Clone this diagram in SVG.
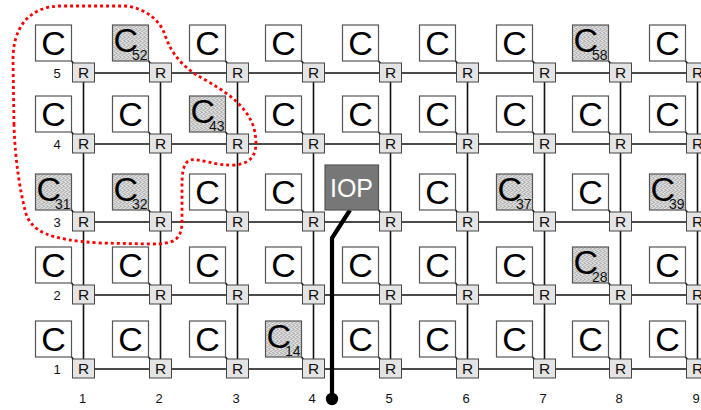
<svg xmlns="http://www.w3.org/2000/svg" width="701" height="410" viewBox="0 0 701 410">
  <defs>
    <!-- stippled fill for occupied cores -->
    <pattern id="stip" width="4" height="4" patternUnits="userSpaceOnUse">
      <rect width="4" height="4" fill="#dedede"/>
      <rect x="0" y="0" width="1" height="1" fill="#8c8c8c"/>
      <rect x="2" y="1" width="1" height="1" fill="#a4a4a4"/>
      <rect x="1" y="2" width="1" height="1" fill="#9a9a9a"/>
      <rect x="3" y="3" width="1" height="1" fill="#909090"/>
      <rect x="3" y="1" width="1" height="1" fill="#c0c0c0"/>
    </pattern>
    <style>
      .grid { stroke: #111; stroke-width: 1.6; fill: none; }
      .link { stroke: #111; stroke-width: 1.6; fill: none; }
      .cb { fill: #fff; stroke: #555; stroke-width: 1.2; }
      .cs { fill: url(#stip); stroke: #555; stroke-width: 1.2; }
      .ct { font-family: "Liberation Sans", Arial, sans-serif; font-size: 34px; fill: #000; text-anchor: middle; }
      .cst { font-family: "Liberation Sans", Arial, sans-serif; font-size: 34px; fill: #000; }
      .sub { font-family: "Liberation Sans", Arial, sans-serif; font-size: 14px; fill: #111; text-anchor: end; }
      .router rect { fill: #e4e4e4; stroke: #444; stroke-width: 1; }
      .router text { font-family: "Liberation Sans", Arial, sans-serif; font-size: 15.5px; fill: #111; text-anchor: middle; }
      .lbl { font-family: "Liberation Sans", Arial, sans-serif; font-size: 13px; fill: #111; text-anchor: middle; }
    </style>
  </defs>

  <rect width="701" height="410" fill="#fff"/>

  <!-- mesh links, core-to-router links and the IO path -->
  <g id="connectors">
    <path class="grid" d="M83.5,73H701 M83.5,144H701 M83.5,222H701 M83.5,295H701 M83.5,369H701"/>
    <path class="grid" d="M83.5,73V369 M160.5,73V369 M237.5,73V369 M313.5,73V369 M390.5,73V369 M467.5,73V369 M544.5,73V369 M620.5,73V369 M697.5,73V369"/>
    <path class="link" d="M71.5,61l2,2.5 M148.5,61l2,2.5 M225.5,61l2,2.5 M301.5,61l2,2.5 M378.5,61l2,2.5 M455.5,61l2,2.5 M532.5,61l2,2.5 M608.5,61l2,2.5 M685.5,61l2,2.5"/>
    <path class="link" d="M71.5,132l2,2.5 M148.5,132l2,2.5 M225.5,132l2,2.5 M301.5,132l2,2.5 M378.5,132l2,2.5 M455.5,132l2,2.5 M532.5,132l2,2.5 M608.5,132l2,2.5 M685.5,132l2,2.5"/>
    <path class="link" d="M71.5,210l2,2.5 M148.5,210l2,2.5 M225.5,210l2,2.5 M301.5,210l2,2.5 M378.5,210l2,2.5 M455.5,210l2,2.5 M532.5,210l2,2.5 M608.5,210l2,2.5 M685.5,210l2,2.5"/>
    <path class="link" d="M71.5,283l2,2.5 M148.5,283l2,2.5 M225.5,283l2,2.5 M301.5,283l2,2.5 M378.5,283l2,2.5 M455.5,283l2,2.5 M532.5,283l2,2.5 M608.5,283l2,2.5 M685.5,283l2,2.5"/>
    <path class="link" d="M71.5,357l2,2.5 M148.5,357l2,2.5 M225.5,357l2,2.5 M301.5,357l2,2.5 M378.5,357l2,2.5 M455.5,357l2,2.5 M532.5,357l2,2.5 M608.5,357l2,2.5 M685.5,357l2,2.5"/>
    <path d="M350,210 L332,238 V399" fill="none" stroke="#000" stroke-width="4.2"/>
    <circle cx="332" cy="399" r="6.2" fill="#000"/>
  </g>

  <!-- cores: row 5 -->
  <g id="core-1-5" transform="translate(83.5,73)"><rect class="cb" x="-48" y="-48" width="36" height="36"/><text class="ct" x="-30" y="-18">C</text></g>
  <g id="core-2-5" transform="translate(160.5,73)"><rect class="cs" x="-48" y="-48" width="36" height="36"/><text class="cst" x="-47" y="-21">C</text><text class="sub" x="-13" y="-13.5">52</text></g>
  <g id="core-3-5" transform="translate(237.5,73)"><rect class="cb" x="-48" y="-48" width="36" height="36"/><text class="ct" x="-30" y="-18">C</text></g>
  <g id="core-4-5" transform="translate(313.5,73)"><rect class="cb" x="-48" y="-48" width="36" height="36"/><text class="ct" x="-30" y="-18">C</text></g>
  <g id="core-5-5" transform="translate(390.5,73)"><rect class="cb" x="-48" y="-48" width="36" height="36"/><text class="ct" x="-30" y="-18">C</text></g>
  <g id="core-6-5" transform="translate(467.5,73)"><rect class="cb" x="-48" y="-48" width="36" height="36"/><text class="ct" x="-30" y="-18">C</text></g>
  <g id="core-7-5" transform="translate(544.5,73)"><rect class="cb" x="-48" y="-48" width="36" height="36"/><text class="ct" x="-30" y="-18">C</text></g>
  <g id="core-8-5" transform="translate(620.5,73)"><rect class="cs" x="-48" y="-48" width="36" height="36"/><text class="cst" x="-47" y="-21">C</text><text class="sub" x="-13" y="-13.5">58</text></g>
  <g id="core-9-5" transform="translate(697.5,73)"><rect class="cb" x="-48" y="-48" width="36" height="36"/><text class="ct" x="-30" y="-18">C</text></g>

  <!-- cores: row 4 -->
  <g id="core-1-4" transform="translate(83.5,144)"><rect class="cb" x="-48" y="-48" width="36" height="36"/><text class="ct" x="-30" y="-18">C</text></g>
  <g id="core-2-4" transform="translate(160.5,144)"><rect class="cb" x="-48" y="-48" width="36" height="36"/><text class="ct" x="-30" y="-18">C</text></g>
  <g id="core-3-4" transform="translate(237.5,144)"><rect class="cs" x="-48" y="-48" width="36" height="36"/><text class="cst" x="-47" y="-21">C</text><text class="sub" x="-13" y="-13.5">43</text></g>
  <g id="core-4-4" transform="translate(313.5,144)"><rect class="cb" x="-48" y="-48" width="36" height="36"/><text class="ct" x="-30" y="-18">C</text></g>
  <g id="core-5-4" transform="translate(390.5,144)"><rect class="cb" x="-48" y="-48" width="36" height="36"/><text class="ct" x="-30" y="-18">C</text></g>
  <g id="core-6-4" transform="translate(467.5,144)"><rect class="cb" x="-48" y="-48" width="36" height="36"/><text class="ct" x="-30" y="-18">C</text></g>
  <g id="core-7-4" transform="translate(544.5,144)"><rect class="cb" x="-48" y="-48" width="36" height="36"/><text class="ct" x="-30" y="-18">C</text></g>
  <g id="core-8-4" transform="translate(620.5,144)"><rect class="cb" x="-48" y="-48" width="36" height="36"/><text class="ct" x="-30" y="-18">C</text></g>
  <g id="core-9-4" transform="translate(697.5,144)"><rect class="cb" x="-48" y="-48" width="36" height="36"/><text class="ct" x="-30" y="-18">C</text></g>

  <!-- cores: row 3 (IO processor in column 5) -->
  <g id="core-1-3" transform="translate(83.5,222)"><rect class="cs" x="-48" y="-48" width="36" height="36"/><text class="cst" x="-47" y="-21">C</text><text class="sub" x="-13" y="-13.5">31</text></g>
  <g id="core-2-3" transform="translate(160.5,222)"><rect class="cs" x="-48" y="-48" width="36" height="36"/><text class="cst" x="-47" y="-21">C</text><text class="sub" x="-13" y="-13.5">32</text></g>
  <g id="core-3-3" transform="translate(237.5,222)"><rect class="cb" x="-48" y="-48" width="36" height="36"/><text class="ct" x="-30" y="-18">C</text></g>
  <g id="core-4-3" transform="translate(313.5,222)"><rect class="cb" x="-48" y="-48" width="36" height="36"/><text class="ct" x="-30" y="-18">C</text></g>
  <g id="iop">
    <rect x="325" y="165" width="53.5" height="45" fill="#777" stroke="#555" stroke-width="1.2"/>
    <text x="351.5" y="197" font-family="'Liberation Sans', Arial, sans-serif" font-size="25" fill="#fff" text-anchor="middle">IOP</text>
  </g>
  <g id="core-6-3" transform="translate(467.5,222)"><rect class="cb" x="-48" y="-48" width="36" height="36"/><text class="ct" x="-30" y="-18">C</text></g>
  <g id="core-7-3" transform="translate(544.5,222)"><rect class="cs" x="-48" y="-48" width="36" height="36"/><text class="cst" x="-47" y="-21">C</text><text class="sub" x="-13" y="-13.5">37</text></g>
  <g id="core-8-3" transform="translate(620.5,222)"><rect class="cb" x="-48" y="-48" width="36" height="36"/><text class="ct" x="-30" y="-18">C</text></g>
  <g id="core-9-3" transform="translate(697.5,222)"><rect class="cs" x="-48" y="-48" width="36" height="36"/><text class="cst" x="-47" y="-21">C</text><text class="sub" x="-13" y="-13.5">39</text></g>

  <!-- cores: row 2 -->
  <g id="core-1-2" transform="translate(83.5,295)"><rect class="cb" x="-48" y="-48" width="36" height="36"/><text class="ct" x="-30" y="-18">C</text></g>
  <g id="core-2-2" transform="translate(160.5,295)"><rect class="cb" x="-48" y="-48" width="36" height="36"/><text class="ct" x="-30" y="-18">C</text></g>
  <g id="core-3-2" transform="translate(237.5,295)"><rect class="cb" x="-48" y="-48" width="36" height="36"/><text class="ct" x="-30" y="-18">C</text></g>
  <g id="core-4-2" transform="translate(313.5,295)"><rect class="cb" x="-48" y="-48" width="36" height="36"/><text class="ct" x="-30" y="-18">C</text></g>
  <g id="core-5-2" transform="translate(390.5,295)"><rect class="cb" x="-48" y="-48" width="36" height="36"/><text class="ct" x="-30" y="-18">C</text></g>
  <g id="core-6-2" transform="translate(467.5,295)"><rect class="cb" x="-48" y="-48" width="36" height="36"/><text class="ct" x="-30" y="-18">C</text></g>
  <g id="core-7-2" transform="translate(544.5,295)"><rect class="cb" x="-48" y="-48" width="36" height="36"/><text class="ct" x="-30" y="-18">C</text></g>
  <g id="core-8-2" transform="translate(620.5,295)"><rect class="cs" x="-48" y="-48" width="36" height="36"/><text class="cst" x="-47" y="-21">C</text><text class="sub" x="-13" y="-13.5">28</text></g>
  <g id="core-9-2" transform="translate(697.5,295)"><rect class="cb" x="-48" y="-48" width="36" height="36"/><text class="ct" x="-30" y="-18">C</text></g>

  <!-- cores: row 1 -->
  <g id="core-1-1" transform="translate(83.5,369)"><rect class="cb" x="-48" y="-48" width="36" height="36"/><text class="ct" x="-30" y="-18">C</text></g>
  <g id="core-2-1" transform="translate(160.5,369)"><rect class="cb" x="-48" y="-48" width="36" height="36"/><text class="ct" x="-30" y="-18">C</text></g>
  <g id="core-3-1" transform="translate(237.5,369)"><rect class="cb" x="-48" y="-48" width="36" height="36"/><text class="ct" x="-30" y="-18">C</text></g>
  <g id="core-4-1" transform="translate(313.5,369)"><rect class="cs" x="-48" y="-48" width="36" height="36"/><text class="cst" x="-47" y="-21">C</text><text class="sub" x="-13" y="-13.5">14</text></g>
  <g id="core-5-1" transform="translate(390.5,369)"><rect class="cb" x="-48" y="-48" width="36" height="36"/><text class="ct" x="-30" y="-18">C</text></g>
  <g id="core-6-1" transform="translate(467.5,369)"><rect class="cb" x="-48" y="-48" width="36" height="36"/><text class="ct" x="-30" y="-18">C</text></g>
  <g id="core-7-1" transform="translate(544.5,369)"><rect class="cb" x="-48" y="-48" width="36" height="36"/><text class="ct" x="-30" y="-18">C</text></g>
  <g id="core-8-1" transform="translate(620.5,369)"><rect class="cb" x="-48" y="-48" width="36" height="36"/><text class="ct" x="-30" y="-18">C</text></g>
  <g id="core-9-1" transform="translate(697.5,369)"><rect class="cb" x="-48" y="-48" width="36" height="36"/><text class="ct" x="-30" y="-18">C</text></g>

  <!-- routers -->
  <g id="r-1-5" class="router" transform="translate(83.5,73)"><rect x="-11" y="-10" width="22" height="19"/><text y="5">R</text></g>
  <g id="r-2-5" class="router" transform="translate(160.5,73)"><rect x="-11" y="-10" width="22" height="19"/><text y="5">R</text></g>
  <g id="r-3-5" class="router" transform="translate(237.5,73)"><rect x="-11" y="-10" width="22" height="19"/><text y="5">R</text></g>
  <g id="r-4-5" class="router" transform="translate(313.5,73)"><rect x="-11" y="-10" width="22" height="19"/><text y="5">R</text></g>
  <g id="r-5-5" class="router" transform="translate(390.5,73)"><rect x="-11" y="-10" width="22" height="19"/><text y="5">R</text></g>
  <g id="r-6-5" class="router" transform="translate(467.5,73)"><rect x="-11" y="-10" width="22" height="19"/><text y="5">R</text></g>
  <g id="r-7-5" class="router" transform="translate(544.5,73)"><rect x="-11" y="-10" width="22" height="19"/><text y="5">R</text></g>
  <g id="r-8-5" class="router" transform="translate(620.5,73)"><rect x="-11" y="-10" width="22" height="19"/><text y="5">R</text></g>
  <g id="r-9-5" class="router" transform="translate(697.5,73)"><rect x="-11" y="-10" width="22" height="19"/><text y="5">R</text></g>

  <g id="r-1-4" class="router" transform="translate(83.5,144)"><rect x="-11" y="-10" width="22" height="19"/><text y="5">R</text></g>
  <g id="r-2-4" class="router" transform="translate(160.5,144)"><rect x="-11" y="-10" width="22" height="19"/><text y="5">R</text></g>
  <g id="r-3-4" class="router" transform="translate(237.5,144)"><rect x="-11" y="-10" width="22" height="19"/><text y="5">R</text></g>
  <g id="r-4-4" class="router" transform="translate(313.5,144)"><rect x="-11" y="-10" width="22" height="19"/><text y="5">R</text></g>
  <g id="r-5-4" class="router" transform="translate(390.5,144)"><rect x="-11" y="-10" width="22" height="19"/><text y="5">R</text></g>
  <g id="r-6-4" class="router" transform="translate(467.5,144)"><rect x="-11" y="-10" width="22" height="19"/><text y="5">R</text></g>
  <g id="r-7-4" class="router" transform="translate(544.5,144)"><rect x="-11" y="-10" width="22" height="19"/><text y="5">R</text></g>
  <g id="r-8-4" class="router" transform="translate(620.5,144)"><rect x="-11" y="-10" width="22" height="19"/><text y="5">R</text></g>
  <g id="r-9-4" class="router" transform="translate(697.5,144)"><rect x="-11" y="-10" width="22" height="19"/><text y="5">R</text></g>

  <g id="r-1-3" class="router" transform="translate(83.5,222)"><rect x="-11" y="-10" width="22" height="19"/><text y="5">R</text></g>
  <g id="r-2-3" class="router" transform="translate(160.5,222)"><rect x="-11" y="-10" width="22" height="19"/><text y="5">R</text></g>
  <g id="r-3-3" class="router" transform="translate(237.5,222)"><rect x="-11" y="-10" width="22" height="19"/><text y="5">R</text></g>
  <g id="r-4-3" class="router" transform="translate(313.5,222)"><rect x="-11" y="-10" width="22" height="19"/><text y="5">R</text></g>
  <g id="r-5-3" class="router" transform="translate(390.5,222)"><rect x="-11" y="-10" width="22" height="19"/><text y="5">R</text></g>
  <g id="r-6-3" class="router" transform="translate(467.5,222)"><rect x="-11" y="-10" width="22" height="19"/><text y="5">R</text></g>
  <g id="r-7-3" class="router" transform="translate(544.5,222)"><rect x="-11" y="-10" width="22" height="19"/><text y="5">R</text></g>
  <g id="r-8-3" class="router" transform="translate(620.5,222)"><rect x="-11" y="-10" width="22" height="19"/><text y="5">R</text></g>
  <g id="r-9-3" class="router" transform="translate(697.5,222)"><rect x="-11" y="-10" width="22" height="19"/><text y="5">R</text></g>

  <g id="r-1-2" class="router" transform="translate(83.5,295)"><rect x="-11" y="-10" width="22" height="19"/><text y="5">R</text></g>
  <g id="r-2-2" class="router" transform="translate(160.5,295)"><rect x="-11" y="-10" width="22" height="19"/><text y="5">R</text></g>
  <g id="r-3-2" class="router" transform="translate(237.5,295)"><rect x="-11" y="-10" width="22" height="19"/><text y="5">R</text></g>
  <g id="r-4-2" class="router" transform="translate(313.5,295)"><rect x="-11" y="-10" width="22" height="19"/><text y="5">R</text></g>
  <g id="r-5-2" class="router" transform="translate(390.5,295)"><rect x="-11" y="-10" width="22" height="19"/><text y="5">R</text></g>
  <g id="r-6-2" class="router" transform="translate(467.5,295)"><rect x="-11" y="-10" width="22" height="19"/><text y="5">R</text></g>
  <g id="r-7-2" class="router" transform="translate(544.5,295)"><rect x="-11" y="-10" width="22" height="19"/><text y="5">R</text></g>
  <g id="r-8-2" class="router" transform="translate(620.5,295)"><rect x="-11" y="-10" width="22" height="19"/><text y="5">R</text></g>
  <g id="r-9-2" class="router" transform="translate(697.5,295)"><rect x="-11" y="-10" width="22" height="19"/><text y="5">R</text></g>

  <g id="r-1-1" class="router" transform="translate(83.5,369)"><rect x="-11" y="-10" width="22" height="19"/><text y="5">R</text></g>
  <g id="r-2-1" class="router" transform="translate(160.5,369)"><rect x="-11" y="-10" width="22" height="19"/><text y="5">R</text></g>
  <g id="r-3-1" class="router" transform="translate(237.5,369)"><rect x="-11" y="-10" width="22" height="19"/><text y="5">R</text></g>
  <g id="r-4-1" class="router" transform="translate(313.5,369)"><rect x="-11" y="-10" width="22" height="19"/><text y="5">R</text></g>
  <g id="r-5-1" class="router" transform="translate(390.5,369)"><rect x="-11" y="-10" width="22" height="19"/><text y="5">R</text></g>
  <g id="r-6-1" class="router" transform="translate(467.5,369)"><rect x="-11" y="-10" width="22" height="19"/><text y="5">R</text></g>
  <g id="r-7-1" class="router" transform="translate(544.5,369)"><rect x="-11" y="-10" width="22" height="19"/><text y="5">R</text></g>
  <g id="r-8-1" class="router" transform="translate(620.5,369)"><rect x="-11" y="-10" width="22" height="19"/><text y="5">R</text></g>
  <g id="r-9-1" class="router" transform="translate(697.5,369)"><rect x="-11" y="-10" width="22" height="19"/><text y="5">R</text></g>

  <!-- row and column indices -->
  <g id="axis-labels">
    <text class="lbl" x="57" y="78">5</text>
    <text class="lbl" x="57" y="149">4</text>
    <text class="lbl" x="57" y="227">3</text>
    <text class="lbl" x="57" y="300">2</text>
    <text class="lbl" x="57" y="374">1</text>
    <text class="lbl" x="82.5" y="403">1</text>
    <text class="lbl" x="159" y="403">2</text>
    <text class="lbl" x="236" y="403">3</text>
    <text class="lbl" x="312" y="403">4</text>
    <text class="lbl" x="389" y="403">5</text>
    <text class="lbl" x="466" y="403">6</text>
    <text class="lbl" x="543" y="403">7</text>
    <text class="lbl" x="619" y="403">8</text>
    <text class="lbl" x="696" y="403">9</text>
  </g>

  <!-- application region outline -->
  <path id="region" d="M14,125 L13,60 C13,28 28,7 60,6 L125,6 C145,8 160,20 165,35 C170,50 178,62 195,74 C215,86 245,100 254,128 C259,150 255,163 235,165 C215,166 200,158 190,160 C182,164 182,175 182,190 L182,220 C182,240 175,244 150,244 L100,243 C50,240 30,232 25,210 C20,190 15,160 14,125 Z" fill="none" stroke="#f00" stroke-width="2.8" stroke-dasharray="3 3"/>
</svg>
